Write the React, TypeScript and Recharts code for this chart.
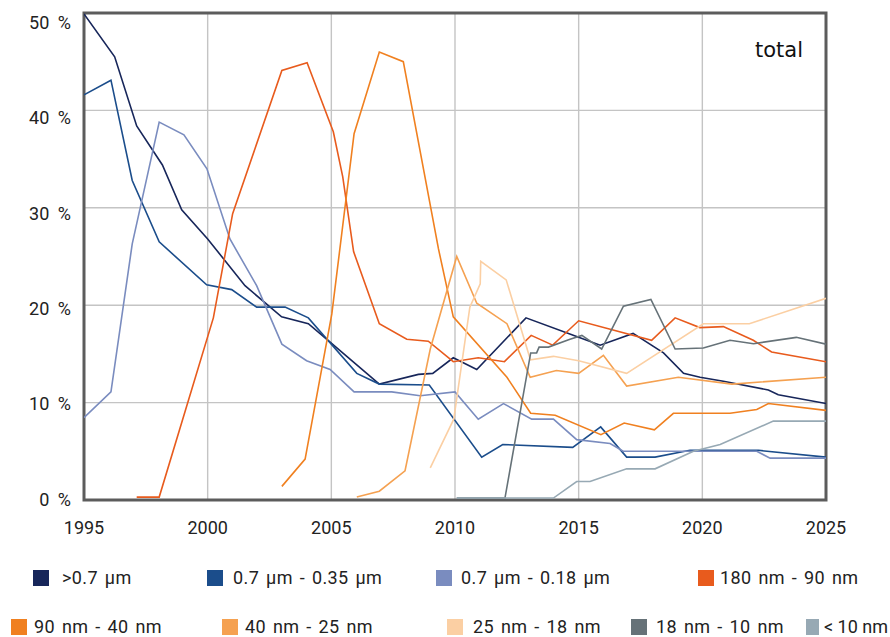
import React from "react";
import { LineChart, Line, XAxis, YAxis, CartesianGrid, ReferenceArea } from "recharts";

const xTicks = [1995, 2000, 2005, 2010, 2015, 2020, 2025];
const yTicks = [0, 10, 20, 30, 40, 50];

const gt07: number[][] = [
  [1995, 49.9], [1996.24, 45.5], [1997.13, 38.4], [1998.17, 34.4], [1998.95, 29.8], [2000, 26.8],
  [2001.51, 22.0], [2002.99, 18.8], [2004.07, 18.1], [2004.95, 16.2], [2006.94, 11.9], [2008.52, 12.9],
  [2009.1, 13.0], [2009.93, 14.6], [2010.88, 13.4], [2012.87, 18.7], [2015, 16.7], [2015.87, 15.9],
  [2017.2, 17.1], [2018.43, 15.1], [2019.24, 13.0], [2019.91, 12.6], [2020.85, 12.2], [2022.67, 11.3],
  [2023.07, 10.8], [2025, 9.9],
];
const b0735: number[][] = [
  [1995, 41.6], [1996.09, 43.1], [1996.95, 32.8], [1998.04, 26.5], [1999.96, 22.1], [2000.97, 21.6],
  [2001.98, 19.8], [2003.13, 19.8], [2004.07, 18.7], [2006.03, 13.0], [2006.94, 11.9], [2008.96, 11.8],
  [2011.08, 4.4], [2011.93, 5.7], [2014.76, 5.4], [2015.89, 7.5], [2016.94, 4.4], [2018.09, 4.4],
  [2019.5, 5.1], [2022.27, 5.1], [2025, 4.4],
];
const b07018: number[][] = [
  [1995, 8.45], [1996.09, 11.1], [1996.95, 26.3], [1998.04, 38.8], [1999.04, 37.5], [1999.97, 34.0],
  [2000.9, 26.8], [2001.98, 22.0], [2003.0, 16.0], [2004.0, 14.3], [2004.95, 13.4], [2005.92, 11.1],
  [2007.44, 11.1], [2008.59, 10.7], [2010.0, 11.1], [2010.94, 8.3], [2011.96, 9.9], [2013.1, 8.3],
  [2013.98, 8.3], [2014.92, 6.2], [2016.27, 5.8], [2016.8, 5.0], [2022.2, 5.0], [2022.74, 4.3], [2025, 4.3],
];
const nm18090: number[][] = [
  [1997.13, 0.3], [1998.04, 0.3], [2000.23, 18.7], [2001.01, 29.4], [2003.0, 44.1], [2004.02, 44.9],
  [2005.08, 37.8], [2005.46, 33.2], [2005.9, 25.5], [2006.94, 18.1], [2008.05, 16.5], [2008.92, 16.3],
  [2009.93, 14.2], [2010.94, 14.6], [2012.0, 14.2], [2013.08, 16.9], [2013.95, 15.9], [2015.0, 18.4],
  [2017.95, 16.4], [2018.9, 18.7], [2019.9, 17.7], [2020.85, 17.8], [2022.06, 16.4], [2022.8, 15.2], [2025, 14.2],
];
const nm9040: number[][] = [
  [2003.0, 1.4], [2003.94, 4.2], [2005.02, 19.1], [2005.92, 37.6], [2006.94, 46.0], [2007.91, 45.0],
  [2009.33, 25.8], [2009.93, 18.8], [2012.1, 12.6], [2013.06, 8.9], [2014.05, 8.7], [2015.9, 6.7],
  [2016.84, 7.9], [2018.06, 7.2], [2018.83, 8.9], [2021.12, 8.9], [2022.2, 9.3], [2022.67, 9.9], [2025, 9.2],
];
const nm4025: number[][] = [
  [2006.03, 0.3], [2006.94, 0.9], [2007.98, 3.0], [2009.0, 15.5], [2010.07, 25.0], [2010.88, 20.2],
  [2012.1, 18.1], [2013.04, 12.6], [2014.1, 13.3], [2015.0, 13.0], [2016.0, 14.85], [2016.94, 11.7],
  [2019.03, 12.6], [2021.2, 11.9], [2025, 12.6],
];
const nm2518: number[][] = [
  [2009.0, 3.3], [2009.95, 8.3], [2010.6, 19.8], [2011.02, 22.2], [2011.04, 24.5], [2012.07, 22.6],
  [2013.05, 14.4], [2013.98, 14.75], [2015.0, 14.3], [2016.94, 13.0], [2020.04, 18.1], [2021.9, 18.1], [2025, 20.7],
];
const nm1810: number[][] = [
  [2010.07, 0.2], [2012.02, 0.2], [2013.06, 15.1], [2013.3, 15.1], [2013.4, 15.7], [2013.78, 15.7],
  [2014.65, 16.5], [2015.13, 16.9], [2015.93, 15.5], [2016.81, 19.9], [2017.92, 20.6], [2018.9, 15.5],
  [2020.04, 15.6], [2021.12, 16.4], [2022.07, 16.05], [2023.8, 16.7], [2025, 16.0],
];
const lt10: number[][] = [
  [2010.07, 0.2], [2013.98, 0.2], [2014.92, 1.9], [2015.46, 1.9], [2016.94, 3.2], [2018.09, 3.2],
  [2019.64, 5.0], [2020.72, 5.7], [2022.87, 8.1], [2025, 8.1],
];

const seriesNames = [
  ">0.7 µm", "0.7 µm - 0.35 µm", "0.7 µm - 0.18 µm", "180 nm - 90 nm",
  "90 nm - 40 nm", "40 nm - 25 nm", "25 nm - 18 nm", "18 nm - 10 nm", "< 10 nm",
];
const seriesColors = [
  "#17265a", "#1b4d8b", "#7a8cbf", "#e85b1d", "#f08020", "#f5a151", "#fbcfa3", "#667278", "#97a9b4",
];
const seriesValues = [gt07, b0735, b07018, nm18090, nm9040, nm4025, nm2518, nm1810, lt10];

// legend layout: [swatchLeft, swatchWidth, textLeft, centerY, extraSpacing]
const legendPos = [
  [33, 16, 62, 578, 1], [207, 16, 233, 578, 1], [436, 16, 461, 578, 1], [698, 16, 720, 578, 1],
  [11, 16, 34, 627, 1], [222, 16, 245, 627, 1], [447, 16, 473, 627, 1], [631, 16, 656, 627, 1], [806, 13, 824, 627, 0],
];

const FONT = "Roboto, 'Noto Sans', sans-serif";

const YTick = (props: any) => {
  const { x, y, payload } = props;
  return (
    <text x={x} y={y - 1 + payload.value * 0.21} textAnchor="end" dominantBaseline="central"
      fontFamily={FONT} fontSize={18} fill="#222" style={{ wordSpacing: 4 }}>{`${payload.value} %`}</text>
  );
};
const XTick = (props: any) => {
  const { x, y, payload } = props;
  return (
    <text x={x} y={y} textAnchor="middle" dominantBaseline="central"
      fontFamily={FONT} fontSize={18} fill="#222">{payload.value}</text>
  );
};

export default function App() {
  return (
    <div style={{ position: "absolute", left: 0, top: 0, width: 890, height: 637, overflow: "hidden", background: "#fff" }}>
      <LineChart width={890} height={540} margin={{ top: 13, right: 64, bottom: 0, left: 0 }}>
        <CartesianGrid stroke="#c4c4c4" strokeWidth={1.4} />
        <XAxis type="number" dataKey="year" domain={[1995, 2025]} ticks={xTicks} allowDataOverflow
          axisLine={false} tickLine={false} tickSize={0} tickMargin={27} height={40} tick={<XTick />} interval={0} />
        <YAxis type="number" domain={[0, 50]} ticks={yTicks} allowDataOverflow width={84}
          axisLine={false} tickLine={false} tickSize={0} tickMargin={13} tick={<YTick />} interval={0} />
        {seriesValues.map((vals, i) => (
          <Line key={seriesNames[i]} name={seriesNames[i]}
            data={vals.map(([year, v]) => ({ year, v }))}
            dataKey="v" type="linear" stroke={seriesColors[i]} strokeWidth={1.6}
            dot={false} activeDot={false} isAnimationActive={false} />
        ))}
        <ReferenceArea x1={1995} x2={2025} y1={0} y2={50} fill="none" fillOpacity={0}
          stroke="#5c5c5c" strokeWidth={3} ifOverflow="visible" />
      </LineChart>
      <div style={{ position: "absolute", right: 87, top: 40, fontFamily: "'DejaVu Sans', sans-serif", fontSize: 21, lineHeight: "21px", color: "#111" }}>
        total
      </div>
      {seriesNames.map((name, i) => {
        const [sx, sw, tx, cy, sp] = legendPos[i];
        return (
          <React.Fragment key={name}>
            <div style={{ position: "absolute", left: sx, top: cy - 8, width: sw, height: 16, background: seriesColors[i] }} />
            <div style={{
              position: "absolute", left: tx, top: cy - 9, fontFamily: FONT, fontSize: 18, lineHeight: "18px",
              color: "#222", whiteSpace: "nowrap", letterSpacing: sp ? 0.4 : 0, wordSpacing: sp ? 2 : 0,
            }}>
              {name}
            </div>
          </React.Fragment>
        );
      })}
    </div>
  );
}
